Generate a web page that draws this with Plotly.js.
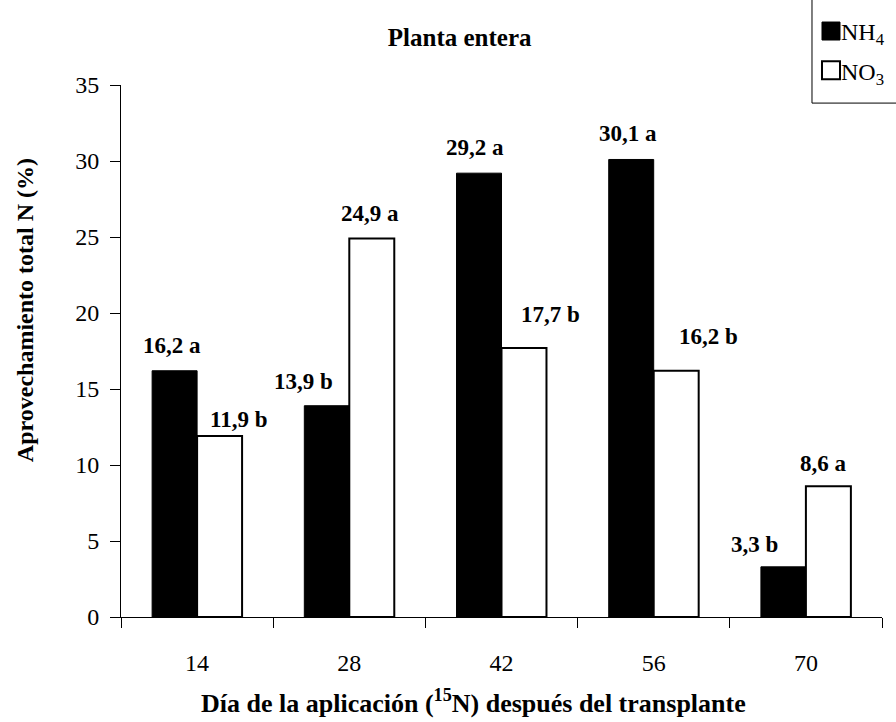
<!DOCTYPE html>
<html>
<head>
<meta charset="utf-8">
<script src="https://cdn.plot.ly/plotly-3.0.1.min.js"></script>
<style>
  html, body { margin: 0; padding: 0; background: #ffffff; }
  #chart { width: 896px; height: 722px; }
</style>
</head>
<body>
<div id="chart"></div>
<script>
// ---- data ----
const days = ['14', '28', '42', '56', '70'];
const nh4Values = [16.2, 13.9, 29.2, 30.1, 3.3];
const no3Values = [11.9, 24.9, 17.7, 16.2, 8.6];
const nh4Letters = ['a', 'b', 'a', 'a', 'b'];
const no3Letters = ['b', 'a', 'b', 'b', 'a'];
const seriesNames = ['NH<sub>4</sub>', 'NO<sub>3</sub>'];
const yTicks = [0, 5, 10, 15, 20, 25, 30, 35];

// ---- label placement (pixels, relative to category centre / bar top) ----
const nh4ShiftX = [-25, -46, -27, -26, -51];
const nh4ShiftY = [25, 24, 26, 26, 22];
const no3ShiftX = [42, 21, 49, 55, 18];
const no3ShiftY = [17, 25, 33, 34, 23];

const FONT = '"Liberation Serif", "Times New Roman", serif';

function fmt(v, letter) {
  return v.toFixed(1).replace('.', ',') + ' ' + letter;
}

const traces = [
  {
    type: 'bar', name: seriesNames[0], x: days, y: nh4Values,
    marker: { color: '#000000', line: { color: '#000000', width: 1 } },
    legendgroup: 'g1', hoverinfo: 'skip'
  },
  {
    type: 'bar', name: seriesNames[1], x: days, y: no3Values,
    marker: { color: '#ffffff', line: { color: '#000000', width: 2 } },
    legendgroup: 'g2', hoverinfo: 'skip'
  }
];

const annotations = [];
days.forEach(function (d, i) {
  // category axis: position by category index
  annotations.push({
    x: i, y: nh4Values[i], xref: 'x', yref: 'y',
    text: '<b>' + fmt(nh4Values[i], nh4Letters[i]) + '</b>',
    showarrow: false, xanchor: 'center', yanchor: 'middle',
    xshift: nh4ShiftX[i], yshift: nh4ShiftY[i],
    font: { family: FONT, size: 23, color: '#000000' }
  });
  annotations.push({
    x: i, y: no3Values[i], xref: 'x', yref: 'y',
    text: '<b>' + fmt(no3Values[i], no3Letters[i]) + '</b>',
    showarrow: false, xanchor: 'center', yanchor: 'middle',
    xshift: no3ShiftX[i], yshift: no3ShiftY[i],
    font: { family: FONT, size: 23, color: '#000000' }
  });
});

// axis titles (placed as in the original figure)
annotations.push({
  xref: 'paper', yref: 'paper', x: 0.4626, y: -0.158,
  xanchor: 'center', yanchor: 'middle', showarrow: false,
  text: '<b>Día de la aplicación (<sup>15</sup>N) después del transplante</b>',
  font: { family: FONT, size: 26, color: '#000000' }
});
annotations.push({
  xref: 'paper', yref: 'paper', x: -0.126, y: 0.577,
  xanchor: 'center', yanchor: 'middle', showarrow: false, textangle: -90,
  text: '<b>Aprovechamiento total N (%)</b>',
  font: { family: FONT, size: 24, color: '#000000' }
});

const layout = {
  width: 896, height: 722,
  paper_bgcolor: '#ffffff', plot_bgcolor: '#ffffff',
  margin: { l: 121, r: 14, t: 85, b: 105, autoexpand: false },
  font: { family: FONT, color: '#000000' },
  title: {
    text: '<b>Planta entera</b>',
    xref: 'container', yref: 'container', x: 0.513, y: 0.949,
    xanchor: 'center', yanchor: 'middle',
    font: { family: FONT, size: 25, color: '#000000' }
  },
  barmode: 'group', bargap: 0.409, bargroupgap: 0,
  xaxis: {
    type: 'category', categoryorder: 'array', categoryarray: days,
    range: [-0.5, days.length - 0.5], autorange: false,
    showline: true, linecolor: '#000000', linewidth: 1,
    ticks: 'outside', tickson: 'boundaries', ticklen: 10, tickcolor: '#000000', tickwidth: 1,
    ticklabelstandoff: 24, tickangle: 0,
    tickfont: { family: FONT, size: 24, color: '#000000' },
    showgrid: false, zeroline: false, fixedrange: true
  },
  yaxis: {
    range: [0, 35], autorange: false, tickmode: 'array', tickvals: yTicks, ticktext: yTicks.map(String),
    showline: true, linecolor: '#000000', linewidth: 1,
    ticks: 'outside', ticklen: 10, tickcolor: '#000000', tickwidth: 1,
    ticklabelstandoff: 6,
    tickfont: { family: FONT, size: 24, color: '#000000' },
    showgrid: false, zeroline: false, fixedrange: true
  },
  // legend frame (runs off the top and right edge, as in the original)
  shapes: [{
    type: 'rect', xref: 'paper', yref: 'paper',
    x0: 0.908, x1: 1.2, y0: 0.966, y1: 1.3,
    line: { color: '#000000', width: 1 }, fillcolor: 'rgba(0,0,0,0)', layer: 'above'
  }],
  showlegend: true,
  legend: {
    x: 0.9067, xanchor: 'left', y: 1.143, yanchor: 'top',
    borderwidth: 0, bgcolor: 'rgba(0,0,0,0)',
    font: { family: FONT, size: 24, color: '#000000' },
    traceorder: 'grouped', tracegroupgap: 5
  },
  annotations: annotations
};

Plotly.newPlot('chart', traces, layout, { displayModeBar: false, staticPlot: true }).then(function (gd) {
  // larger legend swatches, text close to the swatch (as in the original)
  gd.querySelectorAll('.legend .legendpoints path').forEach(function (p) {
    const t = p.getAttribute('transform') || '';
    p.setAttribute('transform', t + ' scale(1.5)');
    const sw = parseFloat(p.style.strokeWidth || '0');
    if (sw > 0) p.style.strokeWidth = (sw / 1.5) + 'px';
  });
  gd.querySelectorAll('.legend .legendtext').forEach(function (t) {
    t.setAttribute('x', 30);
  });
});
</script>
</body>
</html>
